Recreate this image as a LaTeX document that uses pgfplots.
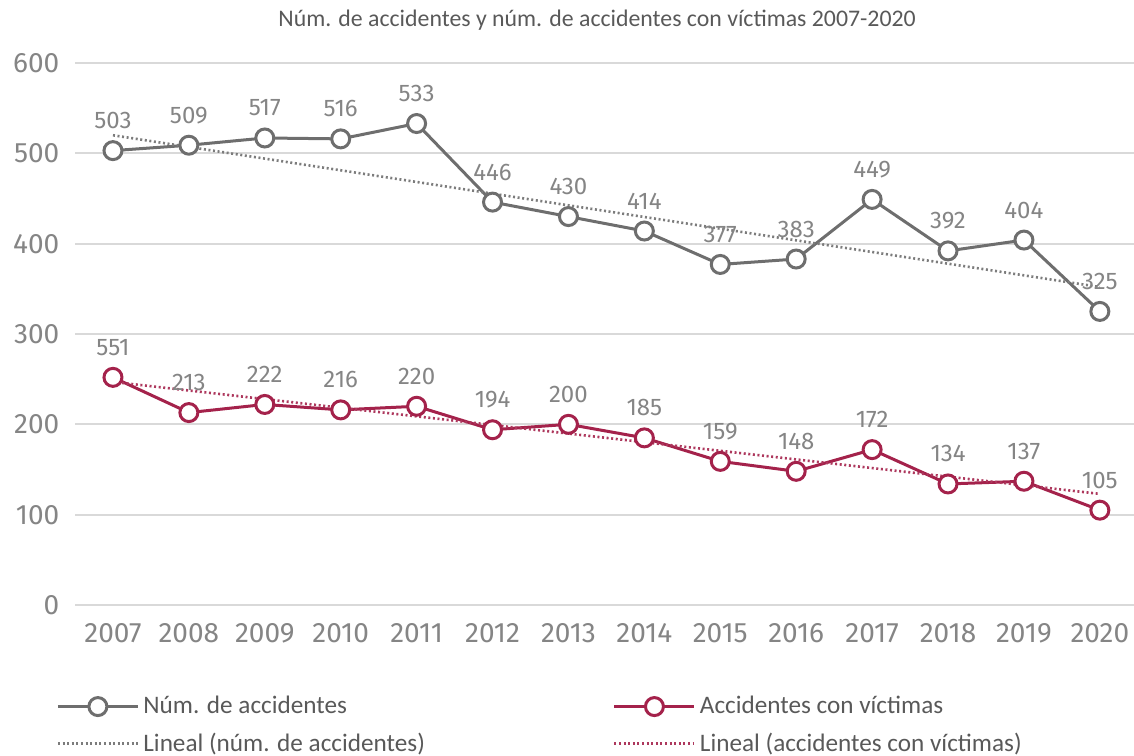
\documentclass[border=0pt]{standalone}
\usepackage{fontspec}
\setmainfont{Carlito}
\newfontfamily\dinfont{Fira Sans}
\usepackage{pgfplots}
\usepackage{pgfplotstable}
\pgfplotsset{compat=1.18}

\definecolor{grayline}{HTML}{6E6E6E}
\definecolor{redline}{HTML}{A4224B}
\definecolor{txtgray}{HTML}{858585}
\definecolor{gridgray}{HTML}{D9D9D9}
\definecolor{leggray}{HTML}{595959}

% year, plotted value, printed label
\pgfplotstableread{
year val lab
2007 503 503
2008 509 509
2009 517 517
2010 516 516
2011 533 533
2012 446 446
2013 430 430
2014 414 414
2015 377 377
2016 383 383
2017 449 449
2018 392 392
2019 404 404
2020 325 325
}\accidentes

\pgfplotstableread{
year val lab
2007 252 551
2008 213 213
2009 222 222
2010 216 216
2011 220 220
2012 194 194
2013 200 200
2014 185 185
2015 159 159
2016 148 148
2017 172 172
2018 134 134
2019 137 137
2020 105 105
}\victimas

\begin{document}
\begin{tikzpicture}
\useasboundingbox (-37.5pt,-75pt) rectangle (529.5pt,302.5pt);
\begin{axis}[
    scale only axis,
    width=529.5pt, height=271pt,
    xmin=2006.5, xmax=2020.45,
    ymin=0, ymax=600,
    axis line style={draw=none},
    major tick style={draw=none},
    ymajorgrids,
    grid style={gridgray, line width=1pt},
    xtick={2007,2008,...,2020},
    ytick={0,100,...,600},
    /pgf/number format/assume math mode=true,
    /pgf/number format/1000 sep={},
    ticklabel style={font=\dinfont\fontsize{14}{14}\selectfont, text=txtgray},
    xticklabel style={yshift=-5.5pt},
    yticklabel style={xshift=-4.3pt},
    clip=false,
    legend columns=2,
    legend cell align=left,
    legend style={draw=none, fill=none,
        font=\fontsize{12.6}{14}\selectfont, text=leggray,
        at={(axis description cs:-0.0236,-0.153)}, anchor=north west,
        row sep=4pt,
        /tikz/every even column/.append style={column sep=92pt}},
    legend image code/.code={\draw[mark repeat=2,mark phase=2,#1]
        plot coordinates {(0pt,0pt) (20pt,0pt) (40pt,0pt)};},
    every node near coord/.append style={font=\dinfont\fontsize{12}{12}\selectfont,
        text=txtgray, anchor=base, yshift=11pt},
]
\addplot[grayline, line width=1.5pt, mark=*, mark size=4.5pt,
    mark options={fill=white, draw=grayline, line width=1.5pt},
    point meta=explicit symbolic, nodes near coords]
    table[x=year, y=val, meta=lab] {\accidentes};
\addlegendentry{Núm. de accidentes}

\addplot[redline, line width=1.5pt, mark=*, mark size=4.5pt,
    mark options={fill=white, draw=redline, line width=1.5pt},
    point meta=explicit symbolic, nodes near coords]
    table[x=year, y=val, meta=lab] {\victimas};
\addlegendentry{Accidentes con víctimas}

\addplot[grayline!90, line width=1.3pt, dash pattern=on 1pt off 1.3pt]
    coordinates {(2007,520) (2020,352)};
\addlegendentry{Lineal (núm. de accidentes)}

\addplot[redline!90, line width=1.3pt, dash pattern=on 1pt off 1.3pt]
    coordinates {(2007,247) (2020,123)};
\addlegendentry{Lineal (accidentes con víctimas)}

\node[font=\fontsize{11.9}{13}\selectfont, text=leggray]
    at (rel axis cs:0.493,1) [yshift=21.5pt]
    {Núm. de accidentes y núm. de accidentes con víctimas 2007-2020};
\end{axis}
\end{tikzpicture}
\end{document}
